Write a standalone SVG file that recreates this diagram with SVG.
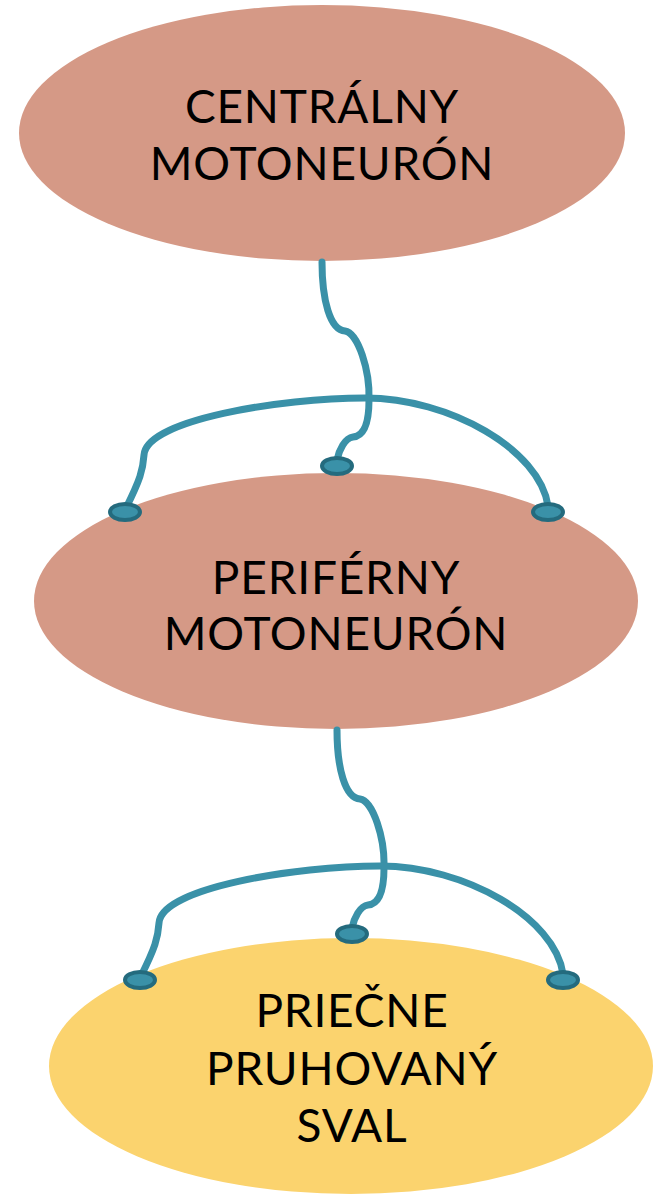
<svg xmlns="http://www.w3.org/2000/svg" xmlns:xlink="http://www.w3.org/1999/xlink" width="654" height="1194" viewBox="0 0 654 1194">
  <style>
    .cell { stroke: none; }
    .neuron { fill: #D59986; }
    .muscle { fill: #FBD36E; }
    .label { font-family: Lato, "Open Sans", "Liberation Sans", sans-serif; font-size: 46px; letter-spacing: 0.8px; fill: #000; text-anchor: middle; }
    .axon { fill: none; stroke: #3A91A8; stroke-width: 7; stroke-linecap: round; stroke-linejoin: round; }
    .bouton { fill: #3A91A8; stroke: #246B7E; stroke-width: 4; }
  </style>
  <defs>
    <!-- axon with a crossing stem and a three-terminal arbor -->
    <g id="synapse">
      <path class="axon" d="M 322 262 C 322 300, 330 330, 345 331 C 358 333, 370 370, 369 400 C 369 420, 365 436, 353 437 C 345 438, 339 450, 337 460"/>
      <path class="axon" d="M 126 508 C 140 480, 143 470, 144 455 C 146 420, 280 398, 365 398 C 450 398, 540 450, 548 506"/>
      <ellipse class="bouton" cx="337" cy="466" rx="15" ry="8"/>
      <ellipse class="bouton" cx="125" cy="512" rx="15" ry="8"/>
      <ellipse class="bouton" cx="548" cy="512" rx="15" ry="8"/>
    </g>
  </defs>

  <g id="central-motoneuron">
    <ellipse class="cell neuron" cx="322" cy="133" rx="303" ry="128"/>
    <text class="label" x="322" y="123">CENTRÁLNY</text>
    <text class="label" x="322" y="180">MOTONEURÓN</text>
  </g>

  <g id="peripheral-motoneuron">
    <ellipse class="cell neuron" cx="336" cy="601" rx="302" ry="128"/>
    <text class="label" x="336" y="594">PERIFÉRNY</text>
    <text class="label" x="336" y="650">MOTONEURÓN</text>
  </g>

  <g id="striated-muscle">
    <ellipse class="cell muscle" cx="351" cy="1066" rx="302" ry="128"/>
    <text class="label" x="352" y="1027">PRIEČNE</text>
    <text class="label" x="352" y="1085">PRUHOVANÝ</text>
    <text class="label" x="352" y="1142">SVAL</text>
  </g>

  <g id="connectors">
    <use xlink:href="#synapse"/>
    <use xlink:href="#synapse" transform="translate(15 468)"/>
  </g>
</svg>
